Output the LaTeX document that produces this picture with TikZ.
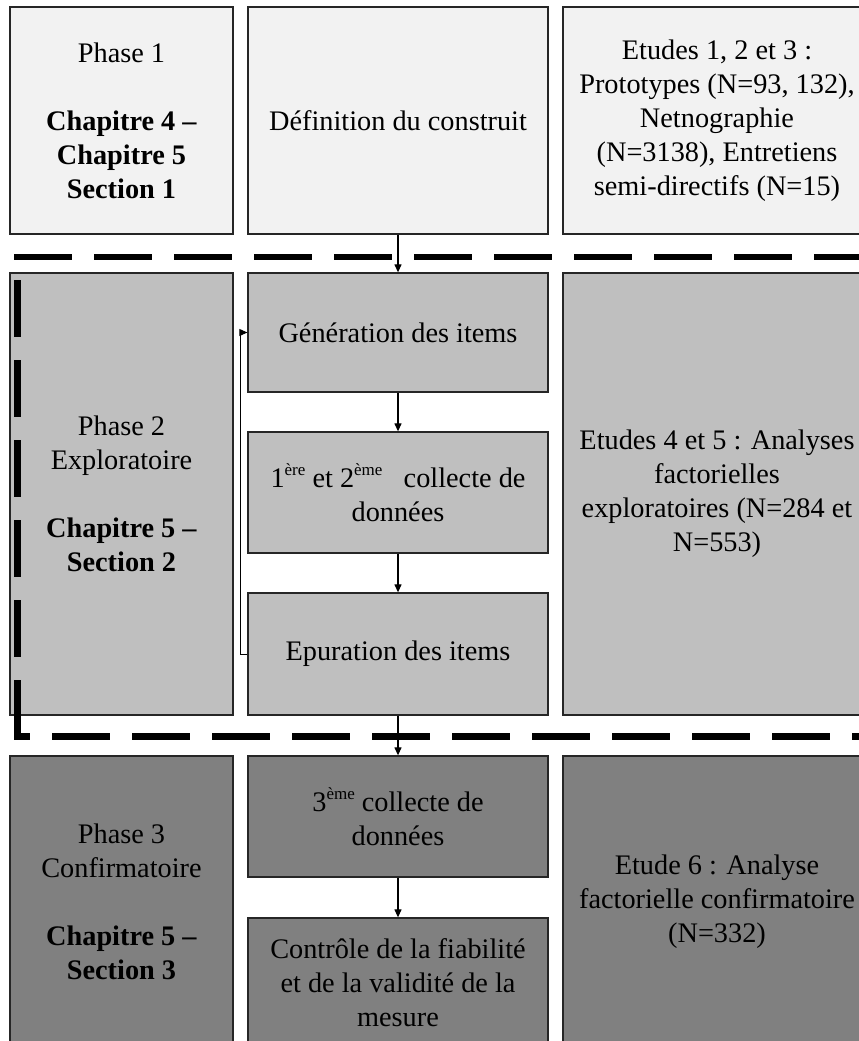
\documentclass[tikz,border=0pt]{standalone}
\usepackage{fontspec}
\setmainfont{Liberation Serif}
\usetikzlibrary{arrows.meta}
\definecolor{paleg}{HTML}{F2F2F2}
\definecolor{midg}{HTML}{BFBFBF}
\definecolor{darkg}{HTML}{808080}
\definecolor{edge}{HTML}{262626}
% small raised text for ordinals
\newcommand\supx[1]{\raisebox{0.42em}{\fontsize{17}{17}\selectfont #1}}

\begin{document}
\begin{tikzpicture}[x=1pt,y=-1pt,
  cell/.style={draw=edge, line width=1.3pt, inner sep=0pt, align=center,
    font=\fontsize{28.3}{34}\selectfont},
  colL/.style={cell, minimum width=223pt},
  colM/.style={cell, minimum width=300pt},
  colR/.style={cell, minimum width=308pt},
  flow/.style={-{Triangle[length=8pt,width=7pt]}, line width=1.2pt},
  loopback/.style={-{Triangle[length=8pt,width=7pt]}, line width=1pt},
  divider/.style={line width=6.5pt}
]
\useasboundingbox (0,0) rectangle (859,1041);
\clip (0,0) rectangle (859,1041);

% ---- Phase 1 row
\node[colL, fill=paleg, minimum height=227pt] (p1) at (121.5,120.5)
  {Phase 1\\[34pt]\textbf{Chapitre 4 –}\\\textbf{Chapitre 5}\\\textbf{Section 1}};
\node[colM, fill=paleg, minimum height=227pt] (def) at (398,120.5)
  {Définition du construit};
\node[colR, fill=paleg, minimum height=227pt] (e1) at (717,120.5)
  {Etudes 1, 2 et 3 :\\Prototypes (N=93, 132),\\Netnographie\\(N=3138), Entretiens\\semi-directifs (N=15)};

% ---- Phase 2 row
\node[colL, fill=midg, minimum height=442pt] (p2) at (121.5,494)
  {Phase 2\\Exploratoire\\[34pt]\textbf{Chapitre 5 –}\\\textbf{Section 2}};
\node[colM, fill=midg, minimum height=119pt] (gen) at (398,332.5)
  {Génération des items};
\node[colM, fill=midg, minimum height=121pt] (coll) at (398,492.5)
  {1\supx{ère} et 2\supx{ème}\hspace{0.5em} collecte de\\données};
\node[colM, fill=midg, minimum height=122pt] (epu) at (398,654)
  {Epuration des items};
\node[colR, fill=midg, minimum height=442pt] (e2) at (717,494)
  {Etudes 4 et 5 : Analyses\\factorielles\\exploratoires (N=284 et\\N=553)};

% ---- Phase 3 row
\node[colL, fill=darkg, minimum height=292pt] (p3) at (121.5,902)
  {Phase 3\\Confirmatoire\\[34pt]\textbf{Chapitre 5 –}\\\textbf{Section 3}};
\node[colM, fill=darkg, minimum height=121pt] (col3) at (398,816.5)
  {3\supx{ème} collecte de\\données};
\node[colM, fill=darkg, minimum height=130pt] (ctrl) at (398,983)
  {Contrôle de la fiabilité\\et de la validité de la\\mesure};
\node[colR, fill=darkg, minimum height=292pt] (e3) at (717,902)
  {Etude 6 : Analyse\\factorielle confirmatoire\\(N=332)};

% ---- dashed phase separators
\coordinate (d1a) at (14,257);
\coordinate (d1b) at (875,257);
\coordinate (vtop) at (17.5,280);
\coordinate (corner) at (17.5,739.75);
\coordinate (d2a) at (14.25,736.5);
\coordinate (d2b) at (875,736.5);
\draw[divider, dash pattern=on 58pt off 22pt] (d1a) -- (d1b);
\draw[divider, dash pattern=on 57pt off 23pt] (vtop) -- (corner);
\draw[divider, dash pattern=on 58pt off 22pt, dash phase=42.25pt] (d2a) -- (d2b);

% ---- flow arrows
\draw[flow] (def) -- (gen);
\draw[flow] (gen) -- (coll);
\draw[flow] (coll) -- (epu);
\draw[flow] (epu) -- (col3);
\draw[flow] (col3) -- (ctrl);
\draw[loopback] (epu.west) -- ++(-7,0) |- (gen.west);
\end{tikzpicture}
\end{document}
